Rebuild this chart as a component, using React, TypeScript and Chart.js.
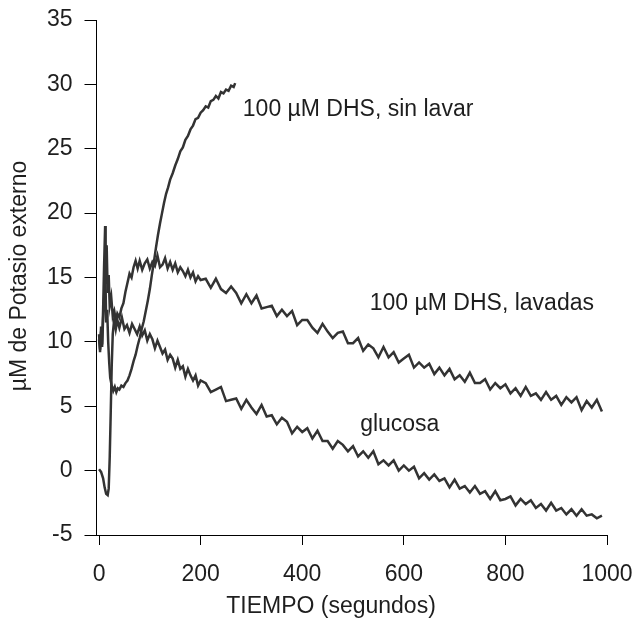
import React, { useEffect, useRef } from 'react';
import { Chart, registerables } from 'chart.js';

Chart.register(...registerables);

// ---- data ----
const glucosaT = [0, 4, 8, 11, 14, 17, 19, 21, 23, 25, 27, 30, 33, 36, 40, 45, 50, 55, 60, 65, 70, 75, 80, 85, 90, 95, 100, 105, 110, 115, 120, 125, 130, 135, 140, 145, 150, 155, 160, 165, 170, 175, 180, 185, 190, 195, 200,
  210, 220, 230, 240, 250, 260, 270, 280, 290, 300, 310, 320, 330, 340, 350, 360, 370, 380, 390, 400, 410, 420, 430, 440, 450, 460, 470, 480, 490, 500,
  510, 520, 530, 540, 550, 560, 570, 580, 590, 600, 610, 620, 630, 640, 650, 660, 670, 680, 690, 700, 710, 720, 730, 740, 750, 760, 770, 780, 790, 800,
  810, 820, 830, 840, 850, 860, 870, 880, 890, 900, 910, 920, 930, 940, 950, 960, 970, 980, 990];
const glucosaV = [0.1, -0.1, -0.6, -1.3, -1.8, -1.9, -1.4, 1.0, 4.5, 8.2, 10.6, 11.8, 11.0, 11.7, 11.1, 11.9, 11.0, 11.3, 10.7, 11.4, 11.0, 10.6, 11.2, 10.5, 10.9, 10.1, 10.6, 10.2, 9.5, 10.1, 9.6, 9.1, 9.4, 8.6, 9.0, 8.7, 8.0, 8.6, 7.9, 8.1, 7.3, 7.9, 7.4, 7.0, 7.4, 6.6, 7.0,
  6.8, 6.1, 6.3, 6.5, 5.4, 5.5, 5.6, 4.8, 5.5, 4.9, 4.4, 5.1, 4.2, 4.3, 3.6, 4.1, 3.8, 2.9, 3.4, 3.0, 3.3, 2.5, 3.1, 2.3, 2.3, 1.7, 2.3, 2.0, 1.5, 1.9,
  1.1, 1.5, 1.0, 1.5, 0.5, 0.8, 0.4, 0.8, 0.0, 0.4, 0.0, 0.3, -0.6, -0.2, -0.7, -0.3, -0.8, -0.6, -1.3, -0.7, -1.4, -1.2, -1.7, -1.2, -1.8, -1.6, -2.2, -1.6, -2.3, -2.2,
  -2.0, -2.7, -2.2, -2.6, -2.3, -2.9, -2.6, -3.1, -2.5, -3.1, -2.9, -3.4, -3.0, -3.5, -3.0, -3.5, -3.4, -3.7, -3.5];

const lavadasT = [0, 2, 4, 6, 8, 10, 12, 13, 15, 17, 19, 21, 24, 27, 30, 33, 36, 40, 44, 48, 52, 56, 60, 64, 68, 72, 76, 80, 85, 90, 95, 100, 105, 110, 115, 120, 125, 130, 135, 140, 145, 150, 155, 160, 165, 170, 175, 180, 185, 190, 195, 200,
  210, 220, 230, 240, 250, 260, 270, 280, 290, 300, 310, 320, 330, 340, 350, 360, 370, 380, 390, 400, 410, 420, 430, 440, 450, 460, 470, 480, 490, 500,
  510, 520, 530, 540, 550, 560, 570, 580, 590, 600, 610, 620, 630, 640, 650, 660, 670, 680, 690, 700, 710, 720, 730, 740, 750, 760, 770, 780, 790, 800,
  810, 820, 830, 840, 850, 860, 870, 880, 890, 900, 910, 920, 930, 940, 950, 960, 970, 980, 990];
const lavadasV = [10.2, 9.4, 10.8, 9.8, 12.5, 16.0, 19.0, 14.5, 17.5, 13.8, 15.2, 12.8, 13.5, 12.0, 12.4, 11.7, 12.2, 11.9, 12.6, 13.0, 13.9, 14.6, 15.3, 15.0, 15.8, 16.3, 15.7, 16.3, 15.6, 16.1, 16.4, 15.7, 16.2, 15.9, 16.7, 15.8, 16.0, 16.5, 15.7, 16.2, 15.6, 16.1, 15.4, 15.8, 15.5, 15.1, 15.6, 15.0, 15.4, 14.7, 15.1, 14.8,
  14.9, 14.2, 14.9, 14.1, 13.8, 14.3, 13.8, 13.0, 13.7, 13.0, 13.6, 12.6, 12.7, 12.8, 12.0, 12.5, 12.0, 12.4, 11.3, 11.7, 11.7, 11.1, 10.7, 11.4, 10.8, 10.3, 10.7, 10.8, 9.9, 9.9,
  10.3, 9.3, 9.8, 9.5, 8.8, 9.6, 8.8, 9.2, 8.4, 8.7, 9.0, 8.0, 8.4, 8.0, 8.3, 7.5, 8.0, 7.4, 7.9, 7.1, 7.4, 6.9, 7.6, 6.8, 6.8, 7.1, 6.3, 6.8, 6.4, 6.7,
  6.0, 6.4, 5.8, 6.5, 5.8, 6.0, 5.5, 6.1, 5.5, 5.8, 5.1, 5.7, 5.3, 5.7, 4.7, 5.4, 4.9, 5.5, 4.6];

const sinLavarT = [0, 2, 4, 6, 8, 10, 12, 14, 16, 18, 20, 22, 25, 28, 31, 34, 37, 40, 44, 48, 52, 56, 60, 64, 68, 72, 76, 80, 84, 88, 92, 96, 100, 104, 108, 112, 116, 120, 124, 128, 132, 136, 140, 145, 150, 155, 160, 165, 170, 175, 180, 185, 190, 195, 200, 205, 210, 215, 220, 225, 230, 235, 240, 245, 250, 255, 260, 265, 268];
const sinLavarV = [10.6, 9.2, 11.2, 9.6, 11.8, 13.5, 16.5, 11.5, 12.5, 10.0, 8.4, 7.2, 6.6, 6.2, 6.5, 6.1, 6.4, 6.3, 6.6, 6.5, 6.8, 7.0, 7.4, 7.9, 8.5, 9.0, 9.7, 10.3, 11.0, 11.6, 12.4, 13.2, 14.1, 15.2, 16.2, 17.3, 18.3, 19.2, 20.0, 20.8, 21.5, 22.0, 22.6, 23.1, 23.7, 24.2, 24.8, 25.1, 25.7, 26.0, 26.5, 26.8, 27.3, 27.4, 27.8, 28.0, 28.3, 28.2, 28.7, 28.8, 29.1, 28.9, 29.4, 29.3, 29.6, 29.5, 29.9, 29.8, 30.1];

const xTicks = [0, 200, 400, 600, 800, 1000];
const yTicks = [-5, 0, 5, 10, 15, 20, 25, 30, 35];
const xTitle = 'TIEMPO (segundos)';
const yTitle = 'µM de Potasio externo';
const seriesNames = ['100 µM DHS, sin lavar', '100 µM DHS, lavadas', 'glucosa'];
// label anchors in data units (time, value)
const labelX = [283, 533, 514];
const labelY = [28.0, 13.0, 3.6];

const FONT = '"Liberation Sans", Arial, sans-serif';
const TEXT = '#1e1e1e';
const LINE = '#333333';

const toPts = (t: number[], v: number[]) => t.map((x, i) => ({ x, y: v[i] }));

const textPlugin = {
  id: 'texts',
  afterDraw(chart: any) {
    const ctx = chart.ctx;
    const xs = chart.scales.x;
    const ys = chart.scales.y;
    ctx.save();
    ctx.fillStyle = TEXT;
    ctx.font = `23px ${FONT}`;
    ctx.textBaseline = 'middle';
    ctx.textAlign = 'left';
    seriesNames.forEach((name, i) => {
      ctx.fillText(name, xs.getPixelForValue(labelX[i]), ys.getPixelForValue(labelY[i]));
    });
    // axis titles
    ctx.textAlign = 'center';
    ctx.fillText(xTitle, 331, 607);
    ctx.translate(20, 276);
    ctx.rotate(-Math.PI / 2);
    ctx.fillText(yTitle, 0, 0);
    ctx.restore();
  },
};

export default function App() {
  const ref = useRef<HTMLCanvasElement | null>(null);
  useEffect(() => {
    document.body.style.margin = '0';
    const canvas = ref.current;
    if (!canvas) return;
    const ds = (name: string, t: number[], v: number[]) => ({
      label: name,
      data: toPts(t, v),
      borderColor: LINE,
      borderWidth: 2.5,
      pointRadius: 0,
      tension: 0,
      fill: false,
    });
    const chart = new Chart(canvas, {
      type: 'line',
      data: {
        datasets: [
          ds(seriesNames[2], glucosaT, glucosaV),
          ds(seriesNames[1], lavadasT, lavadasV),
          ds(seriesNames[0], sinLavarT, sinLavarV),
        ],
      },
      options: {
        animation: false,
        responsive: false,
        devicePixelRatio: 1,
        layout: { padding: { top: 20, right: 31, left: 0, bottom: 0 } },
        plugins: { legend: { display: false }, tooltip: { enabled: false }, title: { display: false } },
        scales: {
          x: {
            type: 'linear',
            min: -5,
            max: 1000,
            afterBuildTicks: (s: any) => { s.ticks = xTicks.map((v) => ({ value: v })); },
            afterFit: (s: any) => { s.height = 93; s.paddingLeft = 0; s.paddingRight = 0; },
            ticks: { font: { size: 23, family: FONT }, color: TEXT, padding: 16, maxRotation: 0, autoSkip: false, callback: (v: any) => String(v) },
            grid: { display: true, drawOnChartArea: false, drawTicks: true, tickLength: 10, color: '#000', lineWidth: 1 },
            border: { display: true, color: '#000', width: 1 },
          },
          y: {
            type: 'linear',
            min: -5,
            max: 35,
            afterBuildTicks: (s: any) => { s.ticks = yTicks.map((v) => ({ value: v })); },
            afterFit: (s: any) => { s.width = 96.5; s.paddingTop = 0; s.paddingBottom = 0; },
            ticks: { font: { size: 23, family: FONT }, color: TEXT, padding: 12, autoSkip: false, callback: (v: any) => String(v) },
            grid: { display: true, drawOnChartArea: false, drawTicks: true, tickLength: 12, color: '#000', lineWidth: 1 },
            border: { display: true, color: '#000', width: 1 },
          },
        },
      },
      plugins: [textPlugin],
    });
    return () => chart.destroy();
  }, []);
  return (
    <div style={{ position: 'fixed', left: 0, top: 0, width: 638, height: 628, background: '#fff' }}>
      <canvas ref={ref} width={638} height={628} />
    </div>
  );
}
